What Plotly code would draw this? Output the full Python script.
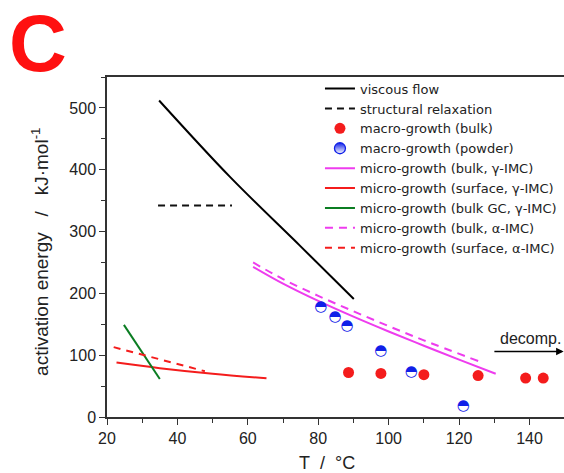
import plotly.graph_objects as go

# ---- data ----
visc_T = [34.8, 55, 75, 90.1]
visc_E = [512, 388, 276, 191]

relax_T = [34.5, 55.5]
relax_E = [342, 342]

bulk_T = [88.6, 97.8, 110.0, 125.4, 138.9, 143.9]
bulk_E = [72, 70.5, 68.5, 67, 63, 63]

powder_T = [80.7, 84.8, 88.2, 97.8, 106.4, 121.2]
powder_E = [177, 161, 147, 107, 73, 18]

mbg_T = [61.5, 70, 80, 90, 100, 110, 120, 130.4]
mbg_E = [243, 215.8, 187.8, 162.3, 138.3, 115.3, 92.8, 70]

msg_T = [22.7, 35, 50, 65.3]
msg_E = [88, 79, 70, 62.5]

mgc_T = [24.8, 35.0]
mgc_E = [149, 61.4]

mba_T = [61.5, 70, 80, 90, 100, 110, 125.7]
mba_E = [250, 223, 196, 171, 147, 124, 90]

msa_T = [21.9, 35, 47.8]
msa_E = [113, 93.5, 74]

decomp_T = [129.6, 149.7]
decomp_E = [106, 106]

x_ticks = [20, 40, 60, 80, 100, 120, 140]
y_ticks = [0, 100, 200, 300, 400, 500]

FONT = "Liberation Sans, Arial, sans-serif"
WFONT = "DejaVu Sans, sans-serif"
MAG = "#ee3cee"
RED = "#f41c1c"
GRN = "#0b7d22"
BLU = "#1020e8"

fig = go.Figure()
fig.add_trace(go.Scatter(x=visc_T, y=visc_E, mode="lines", name="viscous flow",
                         line=dict(color="black", width=2, shape="spline")))
fig.add_trace(go.Scatter(x=relax_T, y=relax_E, mode="lines", name="structural relaxation",
                         line=dict(color="#111", width=2, dash="7px,5px")))
fig.add_trace(go.Scatter(x=bulk_T, y=bulk_E, mode="markers", name="macro-growth (bulk)",
                         marker=dict(color=RED, size=11, symbol="circle")))
# legend entry for the half-filled powder markers
fig.add_trace(go.Scatter(x=[None], y=[None], mode="markers", name="macro-growth (powder)",
                         marker=dict(symbol="circle", size=11, color=BLU,
                                     line=dict(color=BLU, width=1.3),
                                     gradient=dict(type="vertical", color="white"))))
fig.add_trace(go.Scatter(x=mbg_T, y=mbg_E, mode="lines", name="micro-growth (bulk, γ-IMC)",
                         line=dict(color=MAG, width=2, shape="spline")))
fig.add_trace(go.Scatter(x=msg_T, y=msg_E, mode="lines", name="micro-growth (surface, γ-IMC)",
                         line=dict(color=RED, width=2, shape="spline")))
fig.add_trace(go.Scatter(x=mgc_T, y=mgc_E, mode="lines", name="micro-growth (bulk GC, γ-IMC)",
                         line=dict(color=GRN, width=2)))
fig.add_trace(go.Scatter(x=mba_T, y=mba_E, mode="lines", name="micro-growth (bulk, α-IMC)",
                         line=dict(color=MAG, width=2, dash="8px,6px", shape="spline")))
fig.add_trace(go.Scatter(x=msa_T, y=msa_E, mode="lines", name="micro-growth (surface, α-IMC)",
                         line=dict(color=RED, width=2, dash="7px,6px")))
# half-filled powder markers drawn as glyphs
fig.add_trace(go.Scatter(x=powder_T, y=powder_E, mode="text", name="macro-growth (powder)",
                         showlegend=False,
                         text=["\u25d3"] * len(powder_T), textposition="middle center",
                         textfont=dict(family="DejaVu Sans", size=15, color=BLU)))

axis_common = dict(showline=True, linecolor="#333", linewidth=1.5, ticks="outside",
                   ticklen=6, tickwidth=1.3, tickcolor="#333", showgrid=False, zeroline=False,
                   tickfont=dict(family=FONT, size=16, color="#222"))

fig.update_xaxes(range=[20, 149.8], tickvals=x_ticks, mirror=True,
                 minor=dict(ticks="outside", dtick=10, tick0=0, ticklen=4, tickcolor="#333",
                            tickwidth=1.2),
                 **axis_common)
fig.update_yaxes(range=[0, 550], tickvals=y_ticks,
                 minor=dict(ticks="outside", dtick=50, tick0=0, ticklen=4, tickcolor="#333",
                            tickwidth=1.2),
                 **axis_common)

fig.add_annotation(x=decomp_T[1], y=decomp_E[1], ax=decomp_T[0], ay=decomp_E[0],
                   xref="x", yref="y", axref="x", ayref="y", text="",
                   showarrow=True, arrowhead=2, arrowsize=1, arrowwidth=1.5, arrowcolor="black")
fig.add_annotation(x=140.3, y=127, xref="x", yref="y", text="decomp.", showarrow=False,
                   font=dict(family=FONT, size=16, color="#222"))

fig.add_annotation(x=-0.152, y=1.098, xref="paper", yref="paper", text="<b>C</b>",
                   showarrow=False, xanchor="center", yanchor="middle",
                   font=dict(family=FONT, size=80, color="#ff1010"))
fig.add_annotation(x=-0.147, y=0.485, xref="paper", yref="paper",
                   text="activation energy\u00a0\u00a0\u00a0/\u00a0\u00a0\u00a0kJ·mol<sup>-1</sup>",
                   textangle=-90,
                   showarrow=False, xanchor="center", yanchor="middle",
                   font=dict(family=FONT, size=19, color="#222"))
fig.add_annotation(x=0.481, y=-0.134, xref="paper", yref="paper",
                   text="T\u00a0\u00a0/\u00a0\u00a0°C",
                   showarrow=False, xanchor="center", yanchor="middle",
                   font=dict(family=FONT, size=18, color="#222"))

fig.update_layout(
    width=564, height=473,
    margin=dict(l=107, r=0, t=77, b=56),
    plot_bgcolor="white", paper_bgcolor="white",
    showlegend=True,
    legend=dict(x=0.466, y=1.01, xanchor="left", yanchor="top", bgcolor="rgba(0,0,0,0)",
                font=dict(family=WFONT, size=13, color="#222"), traceorder="normal",
                itemwidth=30),
)

fig.write_html("out.html")
